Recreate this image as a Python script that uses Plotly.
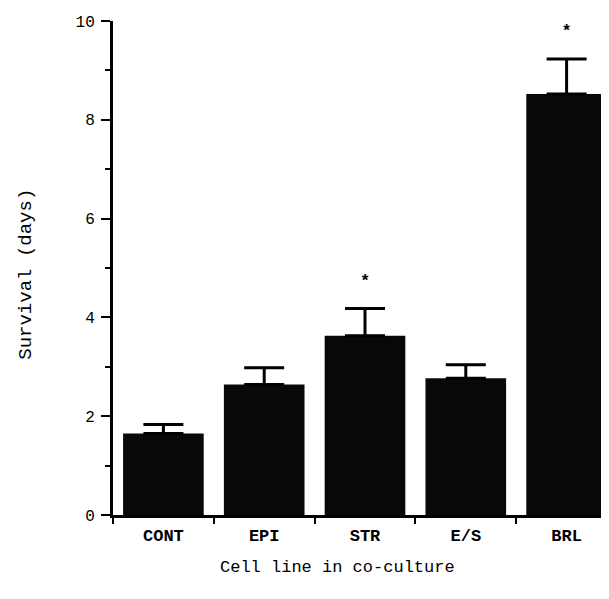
import plotly.graph_objects as go

categories = ["CONT", "EPI", "STR", "E/S", "BRL"]
survival = [1.65, 2.64, 3.63, 2.77, 8.52]
sem = [0.18, 0.34, 0.55, 0.27, 0.71]
significant = [False, False, True, False, True]
y_ticks = [0, 2, 4, 6, 8, 10]

star_offset = 0.55
star_x = [c for c, s in zip(categories, significant) if s]
star_y = [m + e + star_offset for m, e, s in zip(survival, sem, significant) if s]

mono = "Liberation Mono, Courier New, monospace"

fig = go.Figure()
fig.add_trace(go.Bar(
    x=categories, y=survival, width=0.8,
    marker=dict(color="#080808", line=dict(width=0)),
    error_y=dict(type="data", symmetric=False, array=sem,
                 arrayminus=[0] * len(sem), color="#000000",
                 thickness=3, width=20),
    showlegend=False,
))
fig.add_trace(go.Scatter(
    x=star_x, y=star_y, mode="text", text=["*"] * len(star_x),
    textfont=dict(family=mono, size=17, color="#000000", weight="bold"),
    showlegend=False, hoverinfo="skip",
))

fig.update_layout(
    width=609, height=599,
    margin=dict(l=105, r=0, t=13, b=92),
    paper_bgcolor="white", plot_bgcolor="white",
    xaxis=dict(
        type="category", range=[-0.5, 4.5],
        showline=True, linecolor="#000000", linewidth=2.5,
        ticks="outside", tickson="boundaries", ticklen=6, tickwidth=2,
        tickcolor="#000000", showgrid=False, zeroline=False,
        tickfont=dict(family=mono, size=17, color="#000000", weight="bold"),
        ticklabelstandoff=3,
    ),
    yaxis=dict(
        range=[0, 10], tickvals=y_ticks,
        showline=True, linecolor="#000000", linewidth=3,
        ticks="outside", ticklen=9, tickwidth=2, tickcolor="#000000",
        minor=dict(dtick=1, ticks="outside", ticklen=5, tickwidth=2,
                   tickcolor="#000000", showgrid=False),
        showgrid=False, zeroline=False,
        tickfont=dict(family=mono, size=16, color="#000000"),
        ticklabelstandoff=3,
    ),
    annotations=[
        dict(text="Survival (days)", xref="paper", yref="paper",
             x=-0.173, y=0.488, textangle=-90, showarrow=False,
             xanchor="center", yanchor="middle",
             font=dict(family=mono, size=19, color="#000000")),
        dict(text="Cell line in co-culture", xref="paper", yref="paper",
             x=0.446, y=-0.107, showarrow=False,
             xanchor="center", yanchor="middle",
             font=dict(family=mono, size=17, color="#000000")),
    ],
)

fig.write_html("out.html")
